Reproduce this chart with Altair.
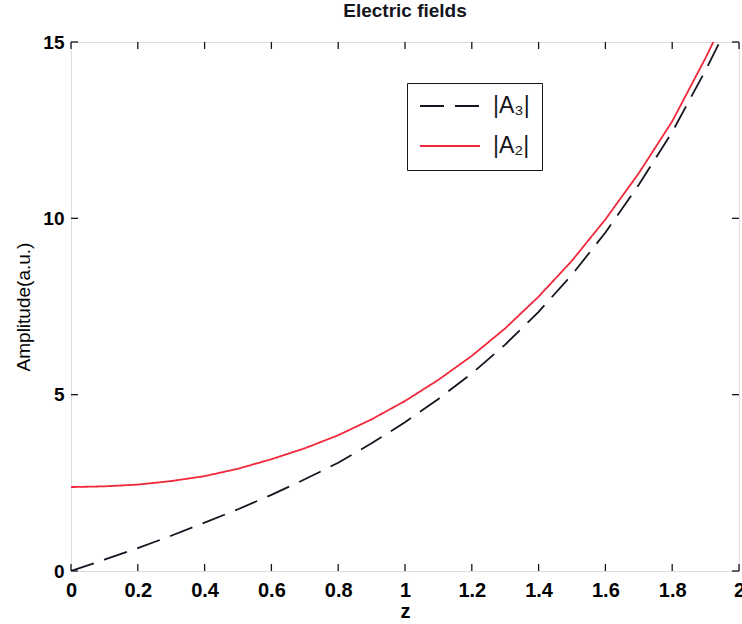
import altair as alt
import pandas as pd

# ---- data ----
z_values = [0.0, 0.1, 0.2, 0.3, 0.4, 0.5, 0.6, 0.7, 0.8, 0.9, 1.0,
            1.1, 1.2, 1.3, 1.4, 1.5, 1.6, 1.7, 1.8, 1.9, 2.0]
a3_values = [0.0, 0.32, 0.65, 1.0, 1.37, 1.75, 2.16, 2.6, 3.07, 3.62, 4.22,
             4.88, 5.6, 6.42, 7.35, 8.4, 9.6, 10.95, 12.45, 14.2, 16.1]
a2_values = [2.38, 2.40, 2.45, 2.55, 2.69, 2.90, 3.17, 3.48, 3.85, 4.30, 4.82,
             5.42, 6.10, 6.88, 7.78, 8.80, 9.97, 11.28, 12.75, 14.55, 16.5]
series_names = ["|A\u2083|", "|A\u2082|"]
x_ticks = [0, 0.2, 0.4, 0.6, 0.8, 1.0, 1.2, 1.4, 1.6, 1.8, 2.0]
y_ticks = [0, 5, 10, 15]

rows = []
for z, v in zip(z_values, a3_values):
    rows.append({"z": z, "value": v, "series": series_names[0]})
for z, v in zip(z_values, a2_values):
    rows.append({"z": z, "value": v, "series": series_names[1]})
df = pd.DataFrame(rows)
xt = pd.DataFrame({"t": x_ticks})
yt = pd.DataFrame({"t": y_ticks})

W, H = 668, 529
FONT = "Liberation Sans"
INK = "#151520"

xscale = alt.Scale(domain=[0, 2], nice=False, zero=False)
yscale = alt.Scale(domain=[0, 15], nice=False)

legend_kw = dict(
    title=None, orient="none", legendX=336, legendY=41,
    strokeColor=INK, fillColor="white", padding=12,
    symbolType="stroke", symbolSize=3600, symbolStrokeWidth=1.8,
    labelFont=FONT, labelFontSize=23, labelColor=INK, labelOffset=12,
    clipHeight=22, rowPadding=17,
)

lines = alt.Chart(df).mark_line(clip=True, strokeWidth=1.8).encode(
    x=alt.X("z:Q", scale=xscale,
            axis=alt.Axis(values=x_ticks, title="z", ticks=False, domain=False,
                          grid=False, labelPadding=9, labelFontSize=20,
                          labelFontWeight="bold", labelFlush=False,
                          labelExpr="format(datum.value, '.1~f')",
                          titleFontSize=20, titleFontWeight="bold",
                          titlePadding=1)),
    y=alt.Y("value:Q", scale=yscale,
            axis=alt.Axis(values=y_ticks, title="Amplitude(a.u.)", ticks=False,
                          domain=False, grid=False, labelPadding=7,
                          labelFontSize=19, labelFontWeight="bold",
                          labelFlush=False, titleFontSize=19,
                          titleFontWeight="normal", titlePadding=9)),
    color=alt.Color("series:N",
                    scale=alt.Scale(domain=series_names, range=[INK, "#f0283a"]),
                    legend=alt.Legend(**legend_kw)),
    strokeDash=alt.StrokeDash("series:N",
                              scale=alt.Scale(domain=series_names,
                                              range=[[24, 11], [1, 0]]),
                              legend=alt.Legend(**legend_kw)),
)

tick_len = 7
bottom_ticks = alt.Chart(xt).mark_rule(color=INK, strokeWidth=1.3).encode(
    x=alt.X("t:Q", scale=xscale), y=alt.value(H), y2=alt.value(H - tick_len))
top_ticks = alt.Chart(xt).mark_rule(color=INK, strokeWidth=1.3).encode(
    x=alt.X("t:Q", scale=xscale), y=alt.value(0), y2=alt.value(tick_len))
left_ticks = alt.Chart(yt).mark_rule(color=INK, strokeWidth=1.3).encode(
    y=alt.Y("t:Q", scale=yscale), x=alt.value(0), x2=alt.value(tick_len))
right_ticks = alt.Chart(yt).mark_rule(color=INK, strokeWidth=1.3).encode(
    y=alt.Y("t:Q", scale=yscale), x=alt.value(W), x2=alt.value(W - tick_len))

chart = alt.layer(lines, bottom_ticks, top_ticks, left_ticks, right_ticks).properties(
    width=W, height=H,
    title=alt.TitleParams("Electric fields", fontSize=19, fontWeight="bold",
                          font=FONT, color=INK, anchor="middle", offset=12),
    autosize=alt.AutoSizeParams(type="none"),
    padding={"left": 71, "top": 42, "right": 3, "bottom": 53},
).configure_view(
    stroke=INK, strokeWidth=1.6, fill="white"
).configure_axis(
    labelFont=FONT, titleFont=FONT, labelColor=INK, titleColor=INK
).configure(background="white")

chart.save("out.html", embed_options={"renderer": "svg", "actions": False})
